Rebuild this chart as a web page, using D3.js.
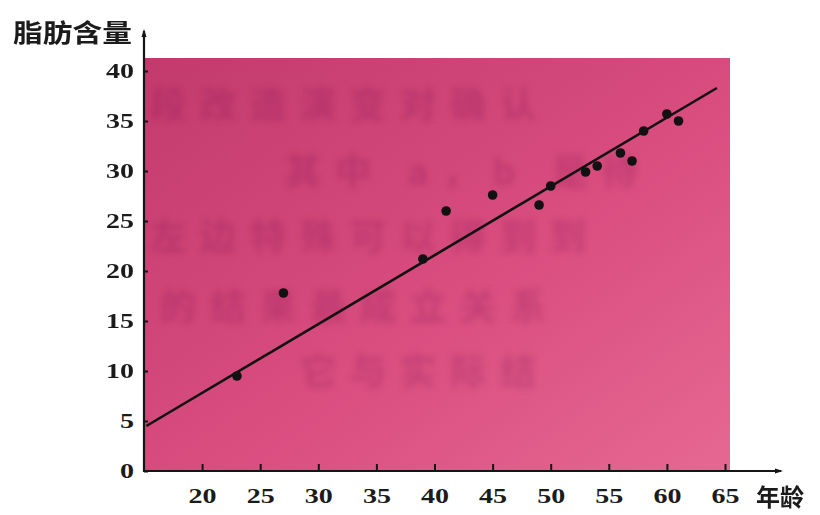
<!DOCTYPE html>
<html>
<head>
<meta charset="utf-8">
<script src="https://cdn.jsdelivr.net/npm/d3@7"></script>
<style>
    body { margin: 0; background: #fff; }
</style>
</head>
<body>
<div id="chart"></div>
<script>

// data: age vs body fat
const ages = [23, 27, 39, 41, 45, 49, 50, 53, 54, 56, 57, 58, 60, 61];
const fat = [9.5, 17.8, 21.2, 26.0, 27.6, 26.6, 28.5, 29.9, 30.5, 31.8, 31.0, 34.0, 35.7, 35.0];

// fitted line as drawn in the figure (ends)
const lineAges = [15.2, 64.3];
const lineFat = [4.5, 38.3];

const xTicks = [20, 25, 30, 35, 40, 45, 50, 55, 60, 65];
const yTicks = [0, 5, 10, 15, 20, 25, 30, 35, 40];

const yTitle = "脂肪含量";
const xTitle = "年龄";

// ghost text bleeding through the scanned page
const ghostRows = ["段改造演变对确认", "其中 a，b 是待", "左边特殊可以得到到", "的结果最成立关系", "它与实际结"];
const ghostX = [150, 285, 150, 160, 300];
const ghostY = [118, 185, 250, 320, 385];

let width = 820, height = 515;
let margin = {left: 144, top: 71, right: 95, bottom: 44};

let svg = d3.select("#chart").append("svg")
    .attr("width", width)
    .attr("height", height);

let x = d3.scaleLinear().domain([15, 65]).range([margin.left, 725]);
let y = d3.scaleLinear().domain([0, 40]).range([471, margin.top]);

// pink paper background
let defs = svg.append("defs");
let grad = defs.append("linearGradient")
    .attr("id", "paper")
    .attr("x1", "0").attr("y1", "0")
    .attr("x2", "1").attr("y2", "1");
grad.append("stop").attr("offset", "0%").attr("stop-color", "#c23a6c");
grad.append("stop").attr("offset", "55%").attr("stop-color", "#d94d7f");
grad.append("stop").attr("offset", "100%").attr("stop-color", "#e66892");

defs.append("filter").attr("id", "blur")
    .append("feGaussianBlur").attr("stdDeviation", 3);

svg.append("rect")
    .attr("x", x(15) + 1)
    .attr("y", 58)
    .attr("width", 730 - x(15) - 1)
    .attr("height", y(0) - 58)
    .attr("fill", "url(#paper)");

svg.append("g")
    .attr("filter", "url(#blur)")
    .selectAll("text")
    .data(ghostRows)
    .enter().append("text")
    .attr("x", (d, i) => ghostX[i])
    .attr("y", (d, i) => ghostY[i])
    .attr("font-family", "Noto Sans CJK SC")
    .attr("font-weight", "bold")
    .attr("font-size", 36)
    .attr("letter-spacing", 14)
    .attr("fill", "#6e1a40")
    .attr("opacity", 0.2)
    .text(d => d);

// axes
let xAxis = d3.axisBottom(x).tickValues(xTicks).tickSize(-7).tickPadding(14).tickSizeOuter(0);
let yAxis = d3.axisLeft(y).tickValues(yTicks).tickSize(-4).tickPadding(10).tickSizeOuter(0);

let gx = svg.append("g")
    .attr("transform", `translate(0, ${y(0)})`)
    .call(xAxis);
let gy = svg.append("g")
    .attr("transform", `translate(${x(15)}, 0)`)
    .call(yAxis);

gx.select(".domain").remove();
gy.select(".domain").remove();

svg.selectAll(".tick line").attr("stroke", "#151515").attr("stroke-width", 2);
svg.selectAll(".tick text")
    .attr("font-family", "Liberation Serif")
    .attr("font-weight", "bold")
    .attr("font-size", 21)
    .attr("fill", "#1b1b1b")
    .attr("lengthAdjust", "spacingAndGlyphs")
    .attr("textLength", d => String(d).length * 14);
gx.selectAll(".tick text").attr("dy", "0.71em").attr("y", 17);

// axis lines with small arrow heads
svg.append("line")
    .attr("x1", x(15)).attr("y1", y(0) + 1)
    .attr("x2", x(15)).attr("y2", 31)
    .attr("stroke", "#151515").attr("stroke-width", 2.2);
svg.append("line")
    .attr("x1", x(15) - 1).attr("y1", y(0))
    .attr("x2", 781).attr("y2", y(0))
    .attr("stroke", "#151515").attr("stroke-width", 2.2);
svg.append("path")
    .attr("d", `M${x(15) - 2.5},37 L${x(15)},29 L${x(15) + 2.5},37 Z`)
    .attr("fill", "#151515");
svg.append("path")
    .attr("d", `M775,${y(0) - 2.5} L783,${y(0)} L775,${y(0) + 2.5} Z`)
    .attr("fill", "#151515");

// fitted line
svg.append("line")
    .attr("x1", x(lineAges[0])).attr("y1", y(lineFat[0]))
    .attr("x2", x(lineAges[1])).attr("y2", y(lineFat[1]))
    .attr("stroke", "#111")
    .attr("stroke-width", 2.6);

// points
svg.selectAll(".pt")
    .data(ages)
    .enter().append("circle")
    .attr("class", "pt")
    .attr("cx", d => x(d))
    .attr("cy", (d, i) => y(fat[i]))
    .attr("r", 4.8)
    .attr("fill", "#111");

// titles
svg.append("text")
    .attr("x", 13).attr("y", 42)
    .attr("font-family", "Noto Sans CJK SC")
    .attr("font-weight", "bold")
    .attr("font-size", 25)
    .attr("fill", "#1b1b1b")
    .attr("lengthAdjust", "spacingAndGlyphs")
    .attr("textLength", 119)
    .text(yTitle);

svg.append("text")
    .attr("x", 756).attr("y", 506)
    .attr("font-family", "Noto Sans CJK SC")
    .attr("font-weight", "bold")
    .attr("font-size", 24)
    .attr("fill", "#1b1b1b")
    .attr("lengthAdjust", "spacingAndGlyphs")
    .attr("textLength", 48)
    .text(xTitle);

</script>
</body>
</html>
